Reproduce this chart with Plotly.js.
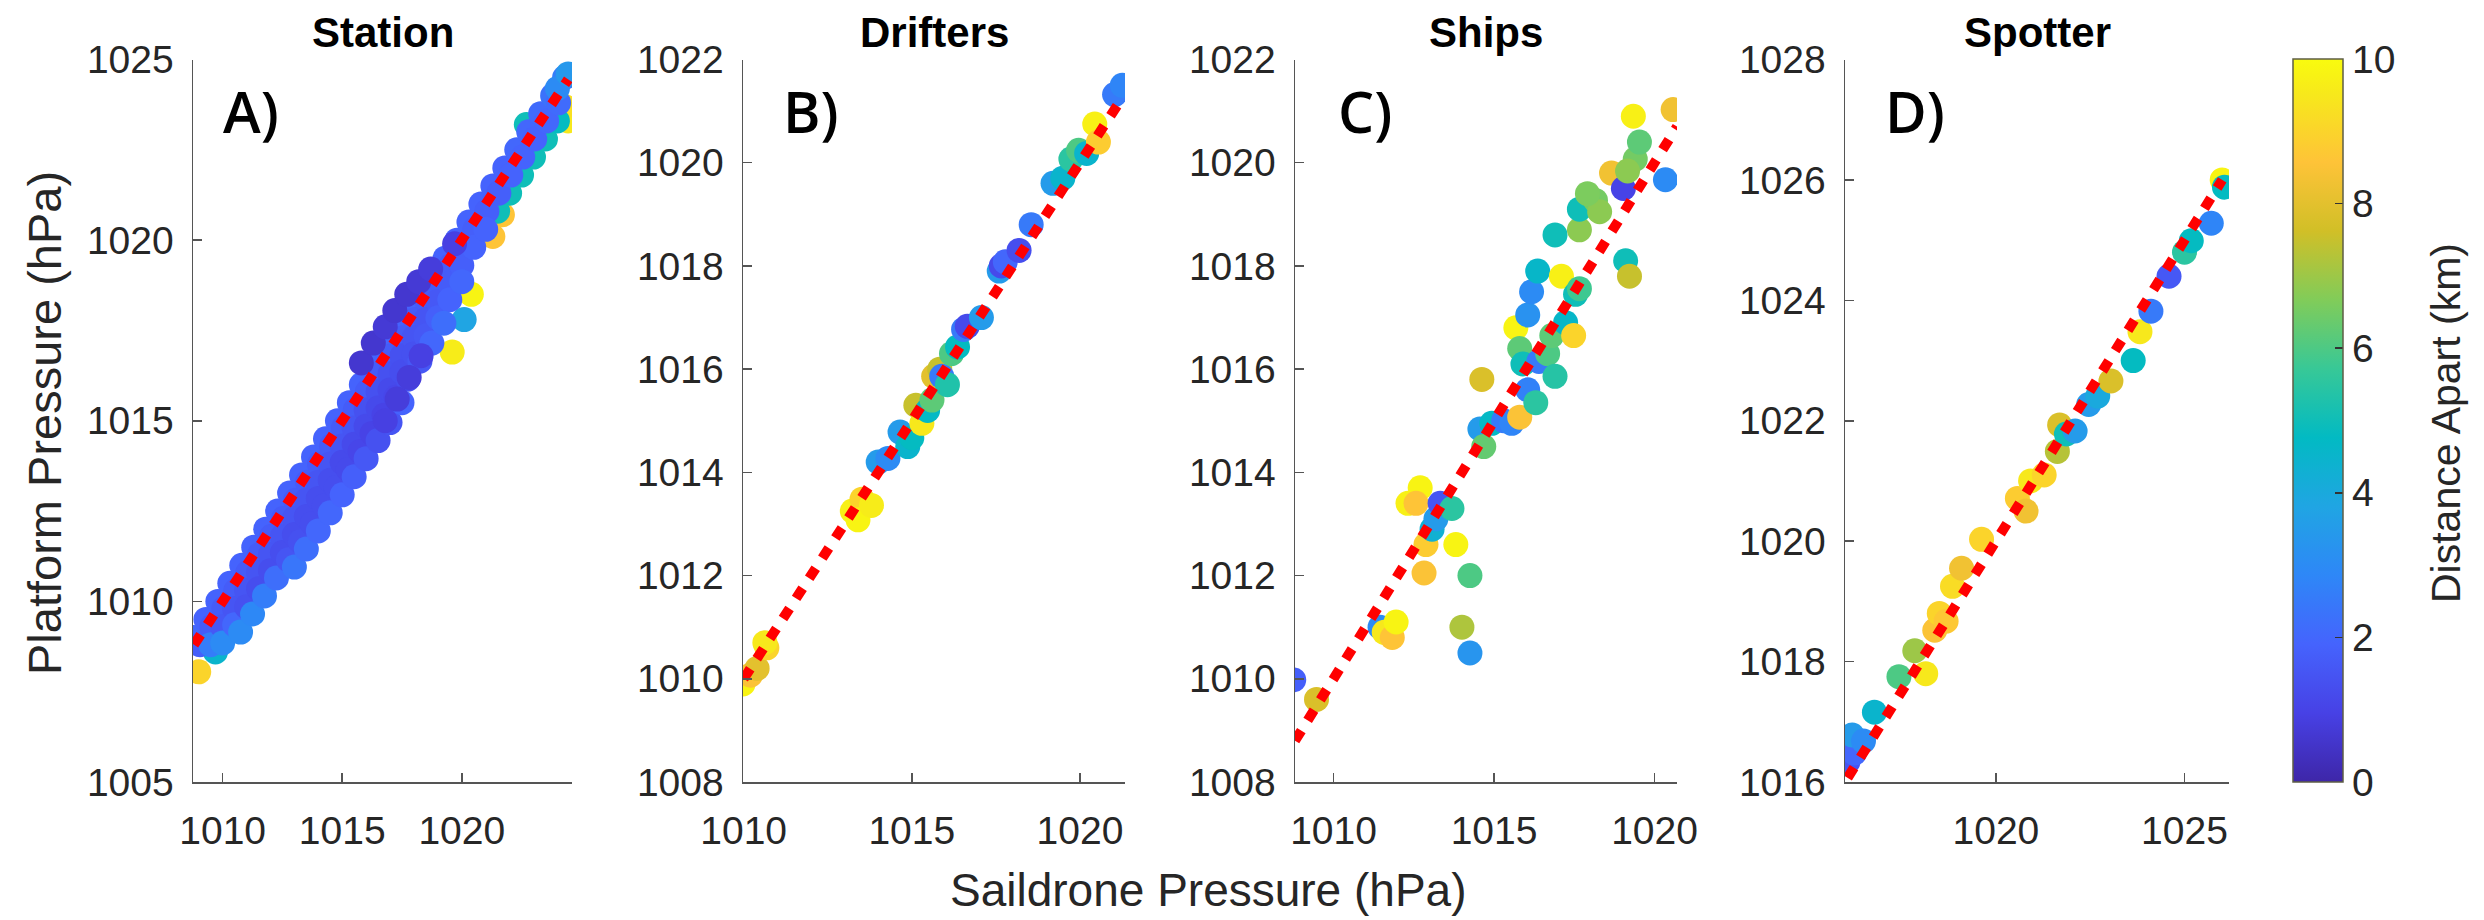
<!DOCTYPE html>
<html>
<head>
<meta charset="utf-8">
<script src="https://cdn.plot.ly/plotly-3.0.1.min.js"></script>
<style>
html,body{margin:0;padding:0;background:#fff;}
#chart{width:2484px;height:920px;}
</style>
</head>
<body>
<div id="chart"></div>
<script>
// ---------- Data (hPa; distance in km) ----------
// Panel A: Station (dense band, read as representative points)
const stationX = [
  // outliers / lower-right edge colours
  1009.0,1009.7,1019.6,1020.4,1020.1,1021.3,1021.7,1024.45,1024.3,1022.7,1021.5,1022.0,1022.5,1023.0,1023.5,1024.0,
  // upper row
  1008.8,1009.3,1009.8,1010.3,1010.8,1011.3,1011.8,1012.3,1012.8,1013.3,1013.8,1014.3,1014.8,1015.3,1015.8,1016.3,1016.8,1017.3,1017.8,1018.3,1018.8,1019.3,1019.8,1020.3,1020.8,1021.3,1021.8,1022.3,1022.8,1023.3,1023.8,1024.3,
  // row 2
  1009.05,1009.55,1010.05,1010.55,1011.05,1011.55,1012.05,1012.55,1013.05,1013.55,1014.05,1014.55,1015.05,1015.55,1016.05,1016.55,1017.05,1017.55,1018.05,1018.55,1019.05,1019.55,1020.05,1020.55,1021.05,1021.55,1022.05,1022.55,1023.05,1023.55,1024.05,
  // row 3
  1009.5,1010.0,1010.5,1011.0,1011.5,1012.0,1012.5,1013.0,1013.5,1014.0,1014.5,1015.0,1015.5,1016.0,1016.5,1017.0,1017.5,1018.0,1018.5,1019.0,1019.5,1020.0,1020.5,1021.0,
  // row 4
  1010.0,1010.5,1011.0,1011.5,1012.0,1012.5,1013.0,1013.5,1014.0,1014.5,1015.0,1015.5,1016.0,1016.5,1017.0,1017.5,1018.0,1018.5,1019.0,1019.5,1020.0,
  // row 5
  1010.75,1011.25,1011.75,1012.25,1012.75,1013.25,1013.75,1014.25,1014.75,1015.25,1015.75,1016.25,1016.75,1017.25,1017.75,1018.25,1018.75,1019.25,
  // row 6 (lowest)
  1013.0,1013.5,1014.0,1014.5,1015.0,1015.5,1016.0,1016.5,1017.0,1017.5,
  // darker patches
  1016.8,1017.3,1017.8,1018.3,
  1015.8,1016.3,1016.8,1017.2,1017.7,1018.2,1018.7,1019.7,
  // top end
  1024.0,1024.45];
const stationY = [
  1008.05,1008.6,1016.9,1018.5,1017.8,1020.1,1020.7,1023.3,1023.7,1023.2,1020.8,1021.3,1021.8,1022.3,1022.8,1023.3,
  1009.0,1009.5,1010.0,1010.5,1011.0,1011.5,1012.0,1012.5,1013.0,1013.5,1014.0,1014.5,1015.0,1015.5,1016.0,1016.5,1017.0,1017.5,1018.0,1018.5,1019.0,1019.5,1020.0,1020.5,1021.0,1021.5,1022.0,1022.5,1023.0,1023.5,1024.0,1024.5,
  1008.8,1009.3,1009.8,1010.3,1010.8,1011.3,1011.8,1012.3,1012.8,1013.3,1013.8,1014.3,1014.8,1015.3,1015.8,1016.3,1016.8,1017.3,1017.8,1018.3,1018.8,1019.3,1019.8,1020.3,1020.8,1021.3,1021.8,1022.3,1022.8,1023.3,1023.8,
  1008.8,1009.3,1009.8,1010.3,1010.8,1011.3,1011.8,1012.3,1012.8,1013.3,1013.8,1014.3,1014.8,1015.3,1015.8,1016.3,1016.8,1017.3,1017.8,1018.3,1018.8,1019.3,1019.8,1020.3,
  1008.85,1009.35,1009.85,1010.35,1010.85,1011.35,1011.85,1012.35,1012.85,1013.35,1013.85,1014.35,1014.85,1015.35,1015.85,1016.35,1016.85,1017.35,1017.85,1018.35,1018.85,
  1009.15,1009.65,1010.15,1010.65,1011.15,1011.65,1012.15,1012.65,1013.15,1013.65,1014.15,1014.65,1015.15,1015.65,1016.15,1016.65,1017.15,1017.7,
  1010.95,1011.45,1011.95,1012.45,1012.95,1013.45,1013.95,1014.45,1014.95,1015.5,
  1015.0,1015.6,1016.2,1016.8,
  1016.6,1017.15,1017.6,1018.05,1018.5,1018.85,1019.2,1019.9,
  1024.2,1024.6];
const stationD = [
  9.0,4.5,9.6,9.8,3.8,8.6,8.6,9.5,9.3,5.0,5.0,5.0,5.0,5.0,5.0,4.8,
  2.0,1.9,1.9,1.9,1.9,1.9,1.9,1.9,1.9,1.9,1.9,1.9,1.9,1.9,1.9,1.9,1.9,1.9,1.9,1.9,1.9,1.9,1.9,1.9,1.9,1.9,1.9,2.0,2.0,2.1,2.3,2.6,
  1.8,1.7,1.7,1.7,1.7,1.7,1.7,1.7,1.7,1.7,1.7,1.7,1.7,1.7,1.7,1.7,1.7,1.7,1.7,1.7,1.7,1.7,1.7,1.8,1.8,1.8,1.9,1.9,1.9,2.0,2.1,
  2.6,1.6,1.5,1.5,1.5,1.5,1.5,1.5,1.5,1.5,1.5,1.5,1.5,1.4,1.4,1.4,1.4,1.5,1.5,1.6,1.7,1.8,1.9,1.9,
  3.0,2.0,1.4,1.3,1.3,1.3,1.3,1.3,1.3,1.3,1.2,1.2,1.2,1.2,1.2,1.3,1.4,1.6,1.8,1.9,2.0,
  3.0,2.9,2.6,2.2,1.5,1.4,1.3,1.3,1.3,1.2,1.1,1.0,1.0,1.1,1.3,1.6,2.0,2.2,
  2.4,2.2,2.0,2.0,1.9,1.8,1.6,1.4,1.5,1.9,
  0.9,0.8,0.8,0.9,
  0.6,0.6,0.7,0.6,0.6,0.7,0.8,0.9,
  3.0,3.4];

// Panel B: Drifters
const drifterX = [1009.98,1010.2,1010.4,1010.69,1010.63,1013.23,1013.52,1013.4,1013.8,1014.0,1014.29,1014.65,1014.88,1015.0,1015.12,1015.3,1015.47,1015.6,1015.65,1015.83,1015.89,1016.06,1016.18,1016.36,1016.54,1016.65,1017.07,1017.6,1017.66,1017.78,1018.19,1018.55,1019.2,1019.49,1019.73,1019.96,1020.2,1020.44,1020.55,1021.03,1021.26];
const drifterY = [1009.9,1010.07,1010.2,1010.6,1010.7,1013.25,1013.48,1013.08,1013.36,1014.2,1014.27,1014.78,1014.5,1014.67,1015.3,1014.95,1015.2,1015.4,1015.86,1016.0,1015.86,1015.7,1016.3,1016.43,1016.77,1016.83,1017.0,1017.9,1018.0,1018.08,1018.3,1018.8,1019.6,1019.7,1020.07,1020.24,1020.18,1020.75,1020.4,1021.32,1021.5];
const drifterD = [9.8,8.5,8.0,9.0,9.5,9.7,9.0,9.8,9.6,3.5,3.0,3.5,4.5,4.8,7.5,9.5,4.7,6.2,8.0,7.5,2.5,5.3,6.0,4.8,2.5,1.2,3.5,3.5,1.2,2.0,1.3,2.5,3.5,4.5,5.5,6.0,4.5,9.7,8.8,2.5,2.8];

// Panel C: Ships
const shipX = [1008.76,1009.47,1011.45,1011.58,1011.83,1011.95,1012.32,1012.7,1012.57,1012.82,1012.88,1013.07,1013.19,1013.32,1013.69,1013.81,1014.25,1014.0,1014.25,1014.62,1014.56,1014.68,1014.93,1015.3,1015.55,1015.8,1015.68,1015.8,1015.9,1016.05,1016.3,1016.05,1016.17,1016.36,1016.4,1016.67,1016.9,1016.8,1017.1,1017.23,1017.48,1017.54,1017.66,1016.9,1017.66,1017.66,1018.16,1018.29,1017.91,1018.66,1019.03,1019.4,1019.53,1019.34,1020.58,1020.34,1019.1,1019.22,1019.16];
const shipY = [1009.98,1009.6,1011.0,1010.9,1010.8,1011.1,1013.4,1013.7,1013.4,1012.05,1012.6,1012.9,1013.1,1013.4,1013.3,1012.6,1012.0,1011.0,1010.5,1015.8,1014.84,1014.5,1014.95,1015.0,1014.95,1015.07,1016.8,1016.4,1016.1,1015.6,1015.35,1017.05,1017.5,1017.9,1016.15,1016.3,1015.86,1016.65,1017.8,1016.9,1016.65,1017.45,1017.56,1018.6,1018.7,1019.1,1019.27,1019.05,1019.4,1019.8,1019.5,1020.07,1020.4,1020.9,1021.03,1019.67,1018.1,1017.8,1019.84];
const shipD = [1.8,7.8,3.0,9.5,8.6,9.8,9.7,9.8,8.6,8.5,8.8,4.3,3.5,1.5,5.5,9.8,6.0,7.2,3.3,7.8,3.5,6.3,4.7,2.5,2.8,8.5,9.8,6.2,5.0,2.7,5.5,3.2,3.0,4.6,2.5,6.0,5.4,6.2,9.7,4.6,9.0,5.0,5.8,5.0,6.8,5.0,6.5,6.8,6.6,8.3,1.0,6.5,6.2,9.7,8.3,3.0,5.0,7.5,6.8];

// Panel D: Spotter
const spotterX = [1016.08,1016.25,1016.19,1016.49,1016.78,1017.43,1017.85,1018.14,1018.38,1018.5,1018.68,1018.85,1019.09,1019.62,1020.57,1020.8,1020.92,1021.28,1021.63,1021.69,1021.87,1022.1,1022.46,1022.7,1023.05,1023.64,1023.82,1024.11,1024.59,1025.0,1025.18,1025.71,1026.0,1026.06];
const spotterY = [1016.34,1016.48,1016.78,1016.68,1017.16,1017.75,1018.18,1017.8,1018.52,1018.8,1018.67,1019.25,1019.55,1020.03,1020.71,1020.5,1021.0,1021.1,1021.49,1021.93,1021.78,1021.83,1022.27,1022.41,1022.66,1023.0,1023.48,1023.82,1024.4,1024.8,1024.99,1025.28,1026.0,1025.88];
const spotterD = [1.5,2.0,3.5,3.0,4.5,6.0,7.0,9.5,8.5,9.0,8.7,9.2,8.3,9.0,8.8,8.3,9.5,9.0,7.3,7.8,5.0,3.5,3.5,4.0,7.8,4.8,9.5,2.5,1.6,5.5,4.8,2.8,9.8,4.8];

// 1:1 reference line extents (Saildrone pressure range per panel)
const lineA = [1008.8, 1024.45];
const lineB = [1010.0, 1021.3];
const lineC = [1008.8, 1020.7];
const lineD = [1016.07, 1026.0];

const panelTitles = ['Station','Drifters','Ships','Spotter'];
const panelLetters = ['A)','B)','C)','D)'];
const colorTicks = [0,2,4,6,8,10];

// ---------- Styling ----------
const W = 2484, H = 920;
const px = v => v / W, py = v => 1 - v / H;
const FONT = 'Liberation Sans, Arial, Helvetica, sans-serif';
const parula = [
  [0.000,'rgb(62,38,168)'],[0.095,'rgb(71,65,229)'],[0.190,'rgb(69,99,253)'],
  [0.286,'rgb(46,135,247)'],[0.381,'rgb(32,165,227)'],[0.476,'rgb(2,186,195)'],
  [0.571,'rgb(55,200,151)'],[0.667,'rgb(129,204,89)'],[0.762,'rgb(209,191,39)'],
  [0.857,'rgb(254,195,56)'],[0.952,'rgb(247,233,27)'],[1.000,'rgb(249,251,14)']
];

const sets = [
  {x: stationX, y: stationY, d: stationD, line: lineA},
  {x: drifterX, y: drifterY, d: drifterD, line: lineB},
  {x: shipX, y: shipY, d: shipD, line: lineC},
  {x: spotterX, y: spotterY, d: spotterD, line: lineD}
];

const traces = [];
sets.forEach((s, i) => {
  const ax = i === 0 ? '' : String(i + 1);
  traces.push({
    type: 'scatter', mode: 'markers', x: s.x, y: s.y,
    xaxis: 'x' + ax, yaxis: 'y' + ax,
    marker: {size: 25, color: s.d, coloraxis: 'coloraxis', line: {width: 0}},
    hoverinfo: 'skip', showlegend: false
  });
  traces.push({
    type: 'scatter', mode: 'lines', x: s.line, y: s.line,
    xaxis: 'x' + ax, yaxis: 'y' + ax,
    line: {color: '#ff0000', width: 10, dash: '12px,12px'},
    hoverinfo: 'skip', showlegend: false
  });
});

const xDomPx = [[193,572],[743,1125],[1295,1677],[1845,2229]];
const xRanges = [[1008.76,1024.61],[1009.98,1021.34],[1008.8,1020.7],[1016.0,1026.18]];
const yRanges = [[1005,1025],[1008,1022],[1008,1022],[1016,1028]];
const yDticks = [5,2,2,2];
const yDom = [py(782), py(59.5)];

const axisCommon = {
  showgrid: false, zeroline: false, showline: true,
  linecolor: '#555555', linewidth: 1.5,
  ticks: 'inside', ticklen: 9, tickwidth: 1.5, tickcolor: '#555555',
  tickfont: {family: FONT, size: 39, color: '#262626'},
  mirror: false, fixedrange: true
};

const layout = {
  width: W, height: H,
  margin: {l: 0, r: 0, t: 0, b: 0},
  paper_bgcolor: '#ffffff', plot_bgcolor: '#ffffff',
  showlegend: false,
  coloraxis: {
    colorscale: parula, cmin: 0, cmax: 10,
    colorbar: {
      x: px(2293), xanchor: 'left', xpad: 0,
      y: yDom[0], yanchor: 'bottom', ypad: 0,
      len: yDom[1] - yDom[0], lenmode: 'fraction',
      thickness: 50, thicknessmode: 'pixels',
      outlinecolor: '#5e5e45', outlinewidth: 1.5,
      tickvals: colorTicks, ticktext: colorTicks.map(String),
      ticks: 'inside', ticklen: 8, tickwidth: 1.5, tickcolor: '#333333',
      tickfont: {family: FONT, size: 39, color: '#262626'}
    }
  },
  annotations: []
};

for (let i = 0; i < 4; i++) {
  const ax = i === 0 ? '' : String(i + 1);
  layout['xaxis' + ax] = Object.assign({}, axisCommon, {
    domain: [px(xDomPx[i][0]), px(xDomPx[i][1])],
    range: xRanges[i], dtick: 5, tick0: 1000,
    anchor: 'y' + ax, ticklabelstandoff: 14
  });
  layout['yaxis' + ax] = Object.assign({}, axisCommon, {
    domain: yDom, range: yRanges[i], dtick: yDticks[i], tick0: 1000,
    anchor: 'x' + ax, ticklabelstandoff: 10
  });
  const cx = (xDomPx[i][0] + xDomPx[i][1]) / 2;
  layout.annotations.push({
    text: '<b>' + panelTitles[i] + '</b>', xref: 'paper', yref: 'paper',
    x: px(cx), y: py(32), xanchor: 'center', yanchor: 'middle', showarrow: false,
    font: {family: FONT, size: 42, color: '#000000'}
  });
}
const letterPx = [225, 785, 1340, 1887];
letterPx.forEach((lx, i) => {
  layout.annotations.push({
    text: panelLetters[i], xref: 'paper', yref: 'paper',
    x: px(lx - 4), y: py(111), xanchor: 'left', yanchor: 'middle', showarrow: false,
    font: {family: 'Open Sans, Lato, sans-serif', size: 57, color: '#000000', weight: 600}
  });
});
layout.annotations.push({
  text: 'Platform Pressure (hPa)', xref: 'paper', yref: 'paper',
  x: px(44), y: py(423), xanchor: 'center', yanchor: 'middle', textangle: -90,
  showarrow: false, font: {family: FONT, size: 47, color: '#262626'}
});
layout.annotations.push({
  text: 'Saildrone Pressure (hPa)', xref: 'paper', yref: 'paper',
  x: px(1208), y: py(890), xanchor: 'center', yanchor: 'middle',
  showarrow: false, font: {family: FONT, size: 46, color: '#262626'}
});
layout.annotations.push({
  text: 'Distance Apart (km)', xref: 'paper', yref: 'paper',
  x: px(2446), y: py(423), xanchor: 'center', yanchor: 'middle', textangle: -90,
  showarrow: false, font: {family: FONT, size: 41, color: '#262626'}
});

Plotly.newPlot('chart', traces, layout, {staticPlot: true, displayModeBar: false});
</script>
</body>
</html>
